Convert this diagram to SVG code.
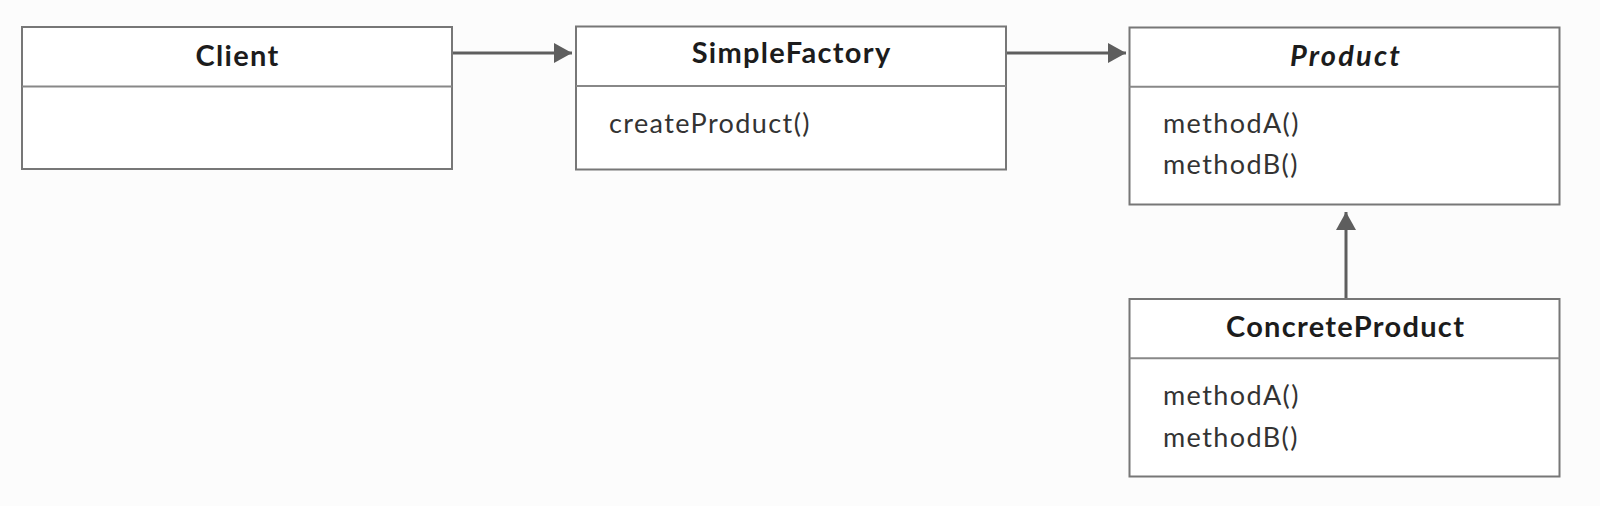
<svg xmlns="http://www.w3.org/2000/svg" width="1600" height="506" viewBox="0 0 1600 506">
<style>
.box{fill:#ffffff;stroke:#777777;stroke-width:2}
.div{stroke:#888888;stroke-width:2}
.title{font-family:Lato,"Liberation Sans",sans-serif;font-weight:bold;font-size:29px;letter-spacing:1.3px;fill:#1c1c1c;text-anchor:middle}
.it{font-style:italic;letter-spacing:2.2px}
.m{font-family:Lato,"Liberation Sans",sans-serif;font-size:27px;letter-spacing:1.4px;fill:#333333}
.conn{stroke:#5e5e5e;stroke-width:3;fill:none}
</style>
<defs>
<marker id="arr" viewBox="0 0 18 20" refX="18" refY="10" markerWidth="18" markerHeight="20" markerUnits="userSpaceOnUse" orient="auto">
<path d="M0,0 L18,10 L0,20 Z" fill="#5e5e5e"/>
</marker>
</defs>
<rect width="1600" height="506" fill="#fcfcfc"/>
<g id="connectors">
<line class="conn" x1="452" y1="53" x2="572" y2="53" marker-end="url(#arr)"/>
<line class="conn" x1="1006" y1="53" x2="1126" y2="53" marker-end="url(#arr)"/>
<line class="conn" x1="1346" y1="299" x2="1346" y2="212" marker-end="url(#arr)"/>
</g>
<g id="client">
<rect class="box" x="22" y="27" width="430" height="142"/>
<line class="div" x1="22" y1="86.5" x2="452" y2="86.5"/>
<text class="title" x="237.6" y="66">Client</text>
</g>
<g id="simplefactory">
<rect class="box" x="576" y="26.5" width="430" height="143"/>
<line class="div" x1="576" y1="86" x2="1006" y2="86"/>
<text class="title" x="791.6" y="63">SimpleFactory</text>
<text class="m" x="609" y="133">createProduct()</text>
</g>
<g id="product">
<rect class="box" x="1129.5" y="27.5" width="430" height="177"/>
<line class="div" x1="1129.5" y1="86.7" x2="1559.5" y2="86.7"/>
<text class="title it" x="1346" y="65.5">Product</text>
<text class="m" x="1163" y="132.5">methodA()</text>
<text class="m" x="1163" y="174">methodB()</text>
</g>
<g id="concreteproduct">
<rect class="box" x="1129.5" y="299" width="430" height="177.5"/>
<line class="div" x1="1129.5" y1="358.3" x2="1559.5" y2="358.3"/>
<text class="title" x="1345.6" y="337">ConcreteProduct</text>
<text class="m" x="1163" y="405">methodA()</text>
<text class="m" x="1163" y="446.7">methodB()</text>
</g>
</svg>
